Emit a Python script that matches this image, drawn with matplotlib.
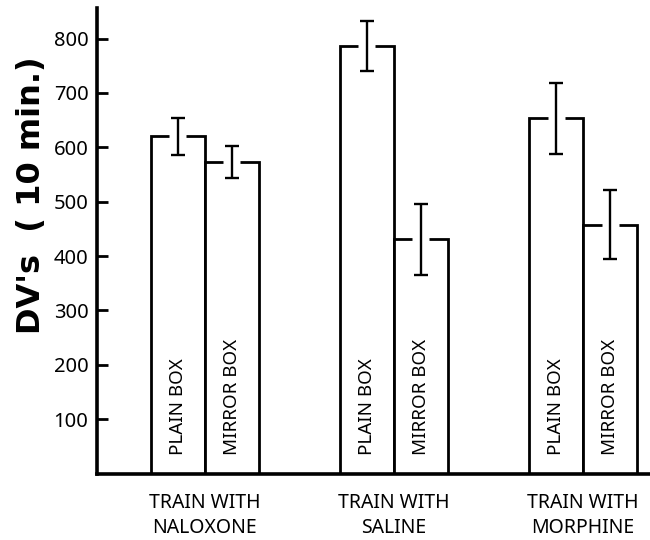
import matplotlib
matplotlib.use("Agg")
import matplotlib.pyplot as plt
import numpy as np

groups = ["TRAIN WITH\nNALOXONE", "TRAIN WITH\nSALINE", "TRAIN WITH\nMORPHINE"]
plain_vals = [620, 786, 653]
plain_err = [34, 46, 65]
mirror_vals = [573, 431, 458]
mirror_err = [30, 65, 64]
bar_labels = ["PLAIN BOX", "MIRROR BOX"]
yticks = [100, 200, 300, 400, 500, 600, 700, 800]

plt.rcParams['font.family'] = ['Noto Sans', 'DejaVu Sans']
plt.rcParams['font.stretch'] = 'extra-condensed'

fig = plt.figure(figsize=(6.5, 5.4), dpi=100)
ax = fig.add_axes([0.149, 0.123, 0.851, 0.862])

x = np.arange(len(groups))
w = 0.286
lw = 2.0
gap = 0.045

for xs, vals, errs, lab in [(x - w / 2, plain_vals, plain_err, bar_labels[0]),
                            (x + w / 2, mirror_vals, mirror_err, bar_labels[1])]:
    ax.bar(xs, vals, width=w, facecolor='white', edgecolor='black',
           linewidth=lw, zorder=2)
    for xi, v in zip(xs, vals):
        ax.plot([xi - gap, xi + gap], [v, v], color='white', lw=lw + 1.5,
                zorder=3, solid_capstyle='butt')
        ax.text(xi, 35, lab, rotation=90, ha='center', va='bottom',
                fontsize=13.5, zorder=5)
    ax.errorbar(xs, vals, yerr=errs, fmt='none', ecolor='black',
                elinewidth=1.7, capsize=5, capthick=1.7, zorder=4)

ax.set_xlim(-0.571, 2.354)
ax.set_ylim(0, 856)
ax.set_yticks(yticks)
ax.set_yticklabels([str(t) for t in yticks], fontsize=14.5)
ax.tick_params(axis='y', direction='in', length=8, width=2, pad=6)
ax.set_xticks(x)
ax.set_xticklabels(groups, fontsize=14, linespacing=1.35)
ax.tick_params(axis='x', length=0, pad=14)

for s in ['top', 'right']:
    ax.spines[s].set_visible(False)
ax.spines['left'].set_linewidth(2.6)
ax.spines['bottom'].set_linewidth(2.6)

fig.text(0.048, 0.639, "DV's  ( 10 min.)", rotation=90, ha='center',
         va='center', fontsize=23, fontweight='heavy',
         family=['DejaVu Sans'], fontstretch='normal')

fig.savefig("out.png", dpi=100)
